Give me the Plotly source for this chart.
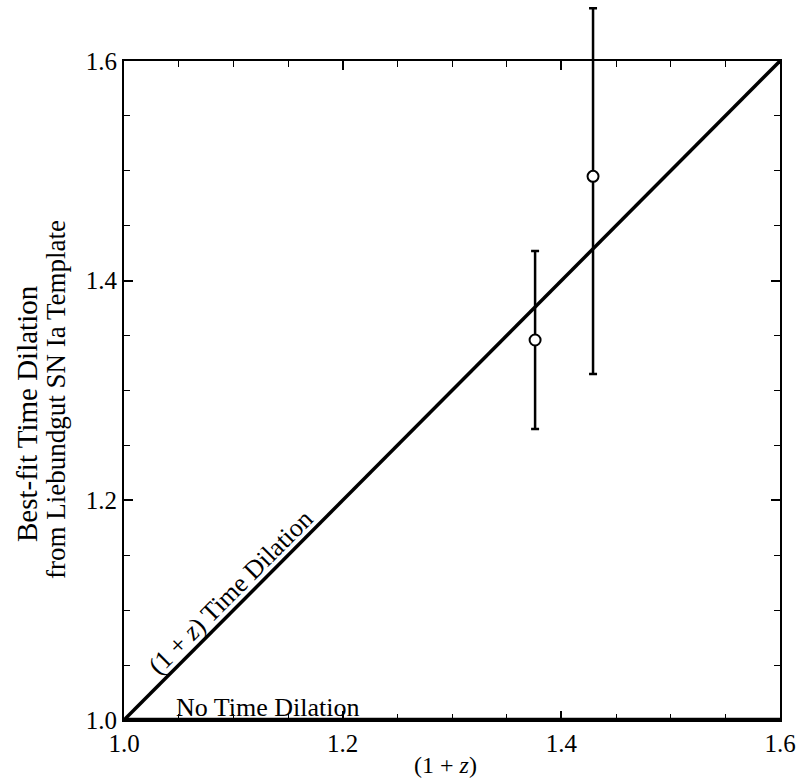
import plotly.graph_objects as go

# data
z1 = [1.376, 1.429]            # (1+z)
stretch = [1.346, 1.495]        # best-fit time dilation
err_plus = [0.081, 0.153]
err_minus = [0.081, 0.180]
diag_x = [1.0, 1.6]
diag_y = [1.0, 1.6]
flat_x = [1.0, 1.6]
flat_y = [1.0, 1.0]
tickvals = [1.0, 1.2, 1.4, 1.6]
ticktext = ["1.0", "1.2", "1.4", "1.6"]

FONT = "Liberation Serif"

# geometry: frame spans 659 px of a 720 px tall drawing area (top margin 0)
AREA_H = 720.0
FRAME_H = 659.0
y_lo, y_hi = 1.0, 1.6
y2_hi = y_lo + (y_hi - y_lo) * AREA_H / FRAME_H

fig = go.Figure()
fig.add_trace(go.Scatter(x=diag_x, y=diag_y, mode="lines", xaxis="x", yaxis="y2",
                         line=dict(color="black", width=3.5), cliponaxis=False))
fig.add_trace(go.Scatter(x=flat_x, y=flat_y, mode="lines", xaxis="x", yaxis="y2",
                         line=dict(color="black", width=4.5), cliponaxis=False))
fig.add_trace(go.Scatter(
    x=z1, y=stretch, mode="markers", cliponaxis=False, xaxis="x", yaxis="y2",
    marker=dict(symbol="circle", size=11, color="white", line=dict(width=2, color="black")),
    error_y=dict(type="data", symmetric=False, array=err_plus, arrayminus=err_minus,
                 color="black", thickness=2.5, width=4)))

axis_common = dict(
    showline=True, linecolor="black", linewidth=2,
    mirror="ticks", ticks="inside", ticklen=9, tickwidth=1.5, tickcolor="black",
    tickvals=tickvals, ticktext=ticktext, showgrid=False, zeroline=False,
    automargin=False,
    tickfont=dict(family=FONT, size=25, color="black"),
    minor=dict(dtick=0.05, ticks="inside", ticklen=6, tickwidth=1.2, tickcolor="black", showgrid=False),
)
fig.update_layout(
    xaxis=dict(range=[1.0, 1.6], anchor="y", **axis_common),
    yaxis=dict(range=[y_lo, y_hi], domain=[0, FRAME_H / AREA_H], anchor="x", **axis_common),
    yaxis2=dict(range=[y_lo, y2_hi], domain=[0, 1], anchor="x", visible=False,
                showgrid=False, zeroline=False, automargin=False),
)

ann_font = dict(family=FONT, size=26, color="black")


def py(p):
    return (AREA_H - p) / AREA_H


fig.update_layout(
    width=799, height=779,
    margin=dict(l=124, r=19, t=0, b=59, autoexpand=False),
    paper_bgcolor="white", plot_bgcolor="rgba(0,0,0,0)",
    showlegend=False,
    annotations=[
        dict(x=1.1317, y=1.011, xref="x", yref="y", text="No Time Dilation",
             showarrow=False, font=ann_font, xanchor="center", yanchor="middle"),
        dict(x=1.0975, y=1.1158, xref="x", yref="y", text="(1 + <i>z</i>) Time Dilation",
             showarrow=False, font=ann_font, textangle=-45, xanchor="center", yanchor="middle"),
        dict(x=(445 - 124) / 656, y=py(765), xref="paper", yref="paper",
             text="(1 + <i>z</i>)", showarrow=False, font=dict(family=FONT, size=24, color="black"),
             xanchor="center", yanchor="middle"),
        dict(x=(27 - 124) / 656, y=py(414), xref="paper", yref="paper",
             text="Best-fit Time Dilation", showarrow=False,
             font=dict(family=FONT, size=29, color="black"),
             textangle=-90, xanchor="center", yanchor="middle"),
        dict(x=(56 - 124) / 656, y=py(400), xref="paper", yref="paper",
             text="from Liebundgut SN Ia Template", showarrow=False,
             font=dict(family=FONT, size=27, color="black"),
             textangle=-90, xanchor="center", yanchor="middle"),
    ],
)

fig.write_html("out.html")
